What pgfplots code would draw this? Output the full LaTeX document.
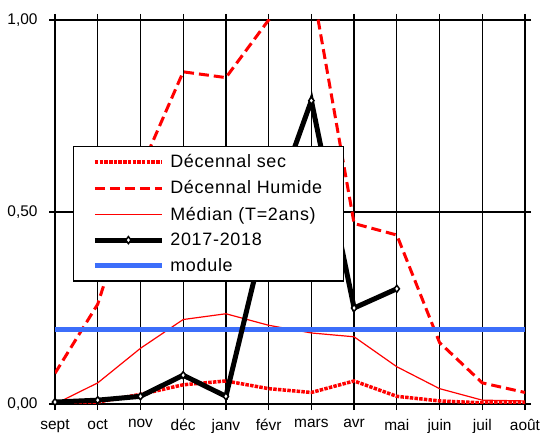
\documentclass[border=0pt]{standalone}
\usepackage{fontspec}
\setmainfont{Liberation Sans}
\newfontfamily\legfont{Liberation Sans}[LetterSpace=4]
\usepackage{pgfplots}
\pgfplotsset{compat=1.18}
\definecolor{modblue}{RGB}{60,110,250}
\begin{document}
\begin{tikzpicture}
\useasboundingbox (-55bp,-29bp) rectangle (486bp,404bp);
\begin{axis}[
  at={(0,0)}, anchor=south west,
  scale only axis, width=470bp, height=384bp,
  xmin=0, xmax=11, ymin=0, ymax=1,
  xtick={0,1,2,3,4,5,6,7,8,9,10,11},
  xticklabels={sept,oct,nov,déc,janv,févr,mars,avr,mai,juin,juil,août},
  ytick={0,0.5,1},
  /pgf/number format/assume math mode=true,
  yticklabel style={/pgf/number format/fixed, /pgf/number format/fixed zerofill, /pgf/number format/precision=2, /pgf/number format/use comma, xshift=-8bp},
  xticklabel style={yshift=-6bp},
  tick label style={font=\fontsize{15.5}{18}\selectfont},
  tick align=outside, major tick length=6bp,
  tick style={black, line width=1.2pt},
  axis line style={black, line width=1.5pt},
  grid=major, major grid style={black, line width=1.2pt},
  legend image code/.code={\draw[mark repeat=2,mark phase=2] plot coordinates {(0cm,0cm) (1.18cm,0cm) (2.36cm,0cm)};},
  legend style={at={(0.038,0.672)}, anchor=north west, draw=black, line width=1.2pt, fill=white,
    font=\legfont\fontsize{18}{20}\selectfont, cells={anchor=west}, inner xsep=19bp, inner ysep=6bp, row sep=7.5bp, column sep=4bp},
  legend cell align=left,
]
\addplot[red, line width=3.5bp, dash pattern=on 3.5bp off 1.2bp] coordinates {
 (0,0.0) (1,0.005) (2,0.025) (3,0.05) (4,0.06) (5,0.04) (6,0.03) (7,0.06) (8,0.02) (9,0.008) (10,0.003) (11,0.003)};
\addlegendentry{Décennal sec}
\addplot[red, line width=3bp, dash pattern=on 10bp off 5bp] coordinates {
 (0,0.08) (1,0.26) (2,0.61) (3,0.865) (4,0.85) (5,1.0) (6,1.10) (7,0.47) (8,0.44) (9,0.16) (10,0.055) (11,0.03)};
\addlegendentry{Décennal Humide}
\addplot[red, line width=1.2bp] coordinates {
 (0,0.0) (1,0.055) (2,0.145) (3,0.22) (4,0.235) (5,0.205) (6,0.185) (7,0.175) (8,0.097) (9,0.04) (10,0.01) (11,0.008)};
\addlegendentry{Médian (T=2ans)}
\addplot[modblue, line width=5bp, forget plot] coordinates {(0,0.195) (11,0.195)};
\addplot[black, line width=5bp, mark=diamond*, mark size=3.5bp, mark options={fill=white, draw=black, line width=1.5bp, solid}] coordinates {
 (0,0.005) (1,0.01) (2,0.02) (3,0.075) (4,0.02) (5,0.48) (6,0.79) (7,0.25) (8,0.30)};
\addlegendentry{2017-2018}
\addlegendimage{modblue, line width=5bp}
\addlegendentry{module}
\end{axis}
\end{tikzpicture}
\end{document}
